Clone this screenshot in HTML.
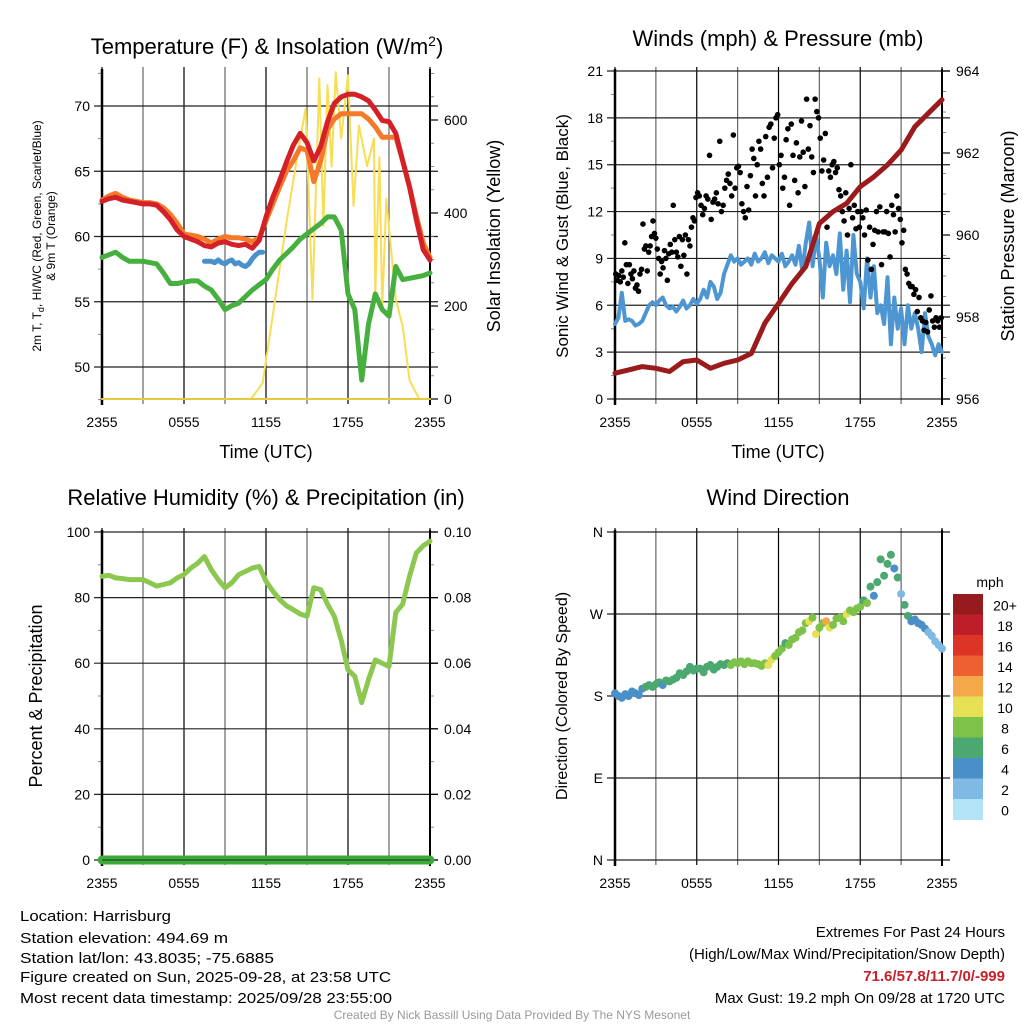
<!DOCTYPE html>
<html><head><meta charset="utf-8"><style>
html,body{margin:0;padding:0;background:#fff;}
svg{display:block;font-family:"Liberation Sans",sans-serif;}
</style></head><body>
<svg id="chart" width="1024" height="1024" viewBox="0 0 1024 1024" xmlns="http://www.w3.org/2000/svg">
<rect width="1024" height="1024" fill="#fff"/>
<g id="g1"></g>
<g id="g2"></g>
<g id="g3"></g>
<g id="g4"></g>

<text x="267" y="54" font-size="22" text-anchor="middle">Temperature (F) &amp; Insolation (W/m<tspan dy="-8" font-size="14">2</tspan><tspan dy="8">)</tspan></text>
<text x="778" y="46" font-size="22" text-anchor="middle">Winds (mph) &amp; Pressure (mb)</text>
<text x="266" y="505" font-size="22" text-anchor="middle">Relative Humidity (%) &amp; Precipitation (in)</text>
<text x="778" y="505" font-size="22" text-anchor="middle">Wind Direction</text>

<text transform="translate(41,236) rotate(-90)" font-size="12" text-anchor="middle">2m T, T<tspan font-size="9" dy="3">d</tspan><tspan dy="-3">, HI/WC (Red, Green, Scarlet/Blue)</tspan></text>
<text transform="translate(55,236) rotate(-90)" font-size="12" text-anchor="middle">&amp; 9m T (Orange)</text>
<text transform="translate(500,236) rotate(-90)" font-size="18" text-anchor="middle">Solar Insolation (Yellow)</text>
<text x="266" y="458" font-size="18" text-anchor="middle">Time (UTC)</text>
<text x="778" y="458" font-size="18" text-anchor="middle">Time (UTC)</text>
<text transform="translate(568,236) rotate(-90)" font-size="17" text-anchor="middle">Sonic Wind &amp; Gust (Blue, Black)</text>
<text transform="translate(1014,236) rotate(-90)" font-size="18" text-anchor="middle">Station Pressure (Maroon)</text>
<text transform="translate(42,696) rotate(-90)" font-size="18" text-anchor="middle">Percent &amp; Precipitation</text>
<text transform="translate(567,696) rotate(-90)" font-size="16" text-anchor="middle">Direction (Colored By Speed)</text>
<text x="990" y="587" font-size="14" text-anchor="middle">mph</text>

<g font-size="15">
<text x="20" y="921" textLength="151" lengthAdjust="spacingAndGlyphs">Location: Harrisburg</text>
<text x="20" y="943" textLength="208" lengthAdjust="spacingAndGlyphs">Station elevation: 494.69 m</text>
<text x="20" y="963" textLength="254" lengthAdjust="spacingAndGlyphs">Station lat/lon: 43.8035; -75.6885</text>
<text x="20" y="982" textLength="371" lengthAdjust="spacingAndGlyphs">Figure created on Sun, 2025-09-28, at 23:58 UTC</text>
<text x="20" y="1003" textLength="372" lengthAdjust="spacingAndGlyphs">Most recent data timestamp: 2025/09/28 23:55:00</text>
</g>
<g font-size="15" text-anchor="end">
<text x="1005" y="937">Extremes For Past 24 Hours</text>
<text x="1005" y="959">(High/Low/Max Wind/Precipitation/Snow Depth)</text>
<text x="1005" y="981" fill="#c8202a" font-weight="bold">71.6/57.8/11.7/0/-999</text>
<text x="1005" y="1003">Max Gust: 19.2 mph On 09/28 at 1720 UTC</text>
</g>
<text x="512" y="1019" font-size="12" fill="#999" text-anchor="middle">Created By Nick Bassill Using Data Provided By The NYS Mesonet</text>
</svg>
<script>
// ---------- data ----------
const timeTicks = ["2355","0555","1155","1755","2355"];
const tempRed = [62.7,62.9,63.0,62.8,62.7,62.6,62.5,62.5,62.4,61.9,61.3,60.5,60.0,59.8,59.6,59.3,59.2,59.5,59.6,59.4,59.3,59.4,59.1,59.7,61.5,63.0,64.3,65.7,67.0,67.9,67.2,65.8,66.9,68.8,70.2,70.7,70.9,70.9,70.7,70.4,69.7,68.9,68.8,67.9,65.8,63.8,61.3,59.0,58.2];
const temp9m = [62.8,63.1,63.3,63.0,62.8,62.7,62.6,62.6,62.5,62.2,61.7,61.0,60.2,60.1,60.0,59.8,59.5,59.8,60.0,59.9,59.9,59.8,59.6,59.9,61.2,62.5,63.8,65.0,65.8,66.8,66.6,64.2,65.8,68.2,69.0,69.4,69.4,69.4,69.4,69.0,68.4,67.6,67.6,67.6,65.8,63.8,61.6,59.5,58.4];
const dewPoint = [58.4,58.6,58.8,58.4,58.1,58.1,58.1,58.0,57.9,57.2,56.4,56.4,56.5,56.6,56.6,56.2,55.9,55.2,54.4,54.7,54.9,55.4,55.9,56.3,56.7,57.5,58.2,58.7,59.2,59.8,60.2,60.6,61.0,61.5,61.5,60.5,55.6,54.4,49.0,53.3,55.6,54.4,53.9,57.7,56.7,56.8,56.9,57.0,57.2];
const windChillStart = 7.5;
const windChill = [58.1,58.1,58.1,58.0,58.2,58.0,57.9,58.1,58.2,57.9,58.0,57.8,57.7,57.9,58.3,58.6,58.8,58.8];
const solarT = [0,10.9,11.75,12.5,13.5,14.5,14.9,15.4,15.9,16.2,16.5,16.8,17.1,17.5,18.0,18.4,18.8,19.4,19.9,20.0,20.3,20.5,20.8,21.2,21.5,22.0,22.5,23.2,24];
const solarV = [0,0,34,180,380,560,624,214,690,372,675,500,703,560,696,415,588,501,560,228,520,192,431,307,214,156,41,0,0];
const rh = [86.5,86.8,86,85.8,85.5,85.5,85.5,84.5,83.5,84,84.5,86,87,89,90.5,92.5,88.5,85.5,83,84.5,87,88,89,89.5,85,82,79.4,77.5,76.3,75,74.3,83,82.4,78,74.3,67,58,56,48,55,61,60,59,75.5,78,86.5,93.6,95.8,97.2];
const pressure = [956.63,956.71,956.79,956.75,956.67,956.91,956.95,956.75,956.87,956.95,957.11,957.85,958.33,958.82,959.23,960.28,960.57,960.77,961.18,961.42,961.71,962.07,962.64,962.97,963.3];
const wind = [4.8,5.2,6.8,5.0,5.1,5.0,4.7,4.8,5.0, 5.5,6.0,6.2,6.0,6.3,6.5,6.0,5.8, 5.9,5.6,5.9,6.3,5.8,6.0,6.4,6.1, 6.4,7.0,6.5,7.5,7.2,6.4,6.8,8.0, 8.6,9.2,8.8,9.0,8.6,8.8,9.0,8.6, 9.3,8.8,9.0,9.4,8.7,9.2,9.0,8.8, 9.3,8.5,8.8,9.2,8.6,9.8,8.2,10.0, 11.3,8.5,10.5,9.0,6.5,10.0,8.5,9.2, 8.0,10.6,7.0,9.5,6.2,10.5,8.0,7.5, 5.8,9.0,6.5,8.5,5.5,6.0,4.8,7.8, 3.5,6.5,4.5,5.8,3.5,6.0,4.5,5.5, 4.5,3.0,5.5,4.0,3.5,2.8,3.5,3.0];
const gustBlocks = [
 [8.0,7.6,7.9,7.5,8.2,7.8,10.0,8.6,7.4,8.6,8.0,7.7,8.2,7.1,7.3,6.9,8.0,8.3],
 [11.2,9.6,9.8,8.2,9.4,9.8,10.4,11.4,10.6,10.3,9.6,9.0,8.0,8.8,8.4,9.5,9.0,7.6,9.3],
 [9.9,9.4,12.4,10.2,9.4,9.1,10.4,8.5,10.2,9.2,10.5,8.0,10.2,9.8,11.0,11.6,11.4,12.9],
 [13.2,13.0,12.4,11.8,12.2,13.0,12.8,15.6,11.5,12.6,12.8,13.2,12.5,16.5,12.0,12.4],
 [13.5,14.0,14.4,13.8,13.0,16.9,13.5,14.8,14.9,14.5,12.5,12.0,11.6,13.6,12.1,14.3],
 [16.0,15.4,13.0,15.0,16.5,16.0,13.8,13.0,16.8,14.2,17.4,17.6,14.8,16.7,18.0,18.2],
 [15.0,15.6,13.5,14.2,16.6,17.3,12.4,17.6,15.6,14.0,16.4,13.2,15.5,17.8,15.8,13.6],
 [19.2,16.0,17.5,15.5,14.5,19.2,18.4,18.0,16.7,14.6,15.3,17.0,11.0,14.6,14.2,15.0],
 [15.2,14.5,14.8,13.4,13.0,12.0,11.4,13.2,10.5,12.2,15.0,11.6,12.4,10.9,12.0,11.0],
 [12.0,11.6,10.5,12.1,8.9,11.0,8.3,9.9,10.8,12.0,10.7,12.3,8.6,10.7,10.7,12.0],
 [10.6,9.1,12.4,11.8,10.7,13.0,12.2,11.5,10.0,10.8,8.3,8.0,7.4,7.2,7.2,6.7],
 [7.0,5.6,6.5,5.2,5.0,4.4,4.9,4.3,5.7,6.6,5.0,4.6,5.2,5.0,4.6,5.2]];
const windDir = [183,180,178,182,180,185,183,181,188, 190,192,190,193,195,192,197,196, 198,200,205,203,207,212,208,210, 210,206,212,214,209,212,215,214, 216,214,217,216,218,215,218,216, 216,215,213,216,214,220,224,228, 232,238,236,242,244,250,252,260, 262,266,248,255,260,262,255,258, 265,266,262,270,274,272,276,278, 285,282,300,290,305,330,312,325, 335,320,310,292,280,268,262,264, 260,258,254,250,246,240,236,232];
const windDirSpeed = [4,4,4,4,5,5,4,4,5, 6,6,6,6,6,5,6,6, 6,6,6,6,6,6,6,6, 6,7,6,7,6,7,6,6, 7,8,8,8,8,8,8,8, 8,8,8,9,10,10,8,8, 8,7,8,8,8,8,9,8, 10,9,10,8,8,12,10,8, 8,9,8,10,9,9,8,9, 7,8,7,5,6,6,6,7, 6,5,6,3,6,6,5,4, 4,4,4,3,3,3,2,3];
const cbLabels = ["20+","18","16","14","12","10","8","6","4","2","0"];
const cbColors = ["#951b1e","#be1e2a","#dc3427","#ee6030","#f5a84a","#e6e055","#7ec24a","#4aa870","#4a8fc8","#7fbae4","#b3e3f7"];

// ---------- helpers ----------
const NS="http://www.w3.org/2000/svg";
function mk(parent,tag,attrs){const e=document.createElementNS(NS,tag);for(const k in attrs)e.setAttribute(k,attrs[k]);parent.appendChild(e);return e;}
function lin(d0,d1,r0,r1){return v=>r0+(v-d0)/(d1-d0)*(r1-r0);}
function frame(g,L,R,T,B,yTicksL,yLabL,yTicksR,yLabR,xs,ys,ysR,minorL,minorR){
  // vertical grid every 3 h
  for(let h=0;h<=24;h+=3){const x=xs(h);
    const ln=mk(g,'line',{x1:x,x2:x,y1:T-4,y2:B+5,stroke:(h%6==0)?'#000':'#666','stroke-width':1.2});
    
    }
  timeTicks.forEach((t,i)=>{const tx=mk(g,'text',{x:xs(i*6),y:B+28,'font-size':14,'text-anchor':'middle'});tx.textContent=t;
    
    });
  yTicksL.forEach((v,i)=>{const y=ys(v);
    const ln=mk(g,'line',{x1:L-8,x2:R+(yTicksR?8:8),y1:y,y2:y,stroke:'#222','stroke-width':1.2});
    
    
    const tx=mk(g,'text',{x:L-12,y:y+5,'font-size':14,'text-anchor':'end'});tx.textContent=yLabL[i];
    
    });
  (minorL||[]).forEach(v=>{const y=ys(v);mk(g,'line',{x1:L-4,x2:L,y1:y,y2:y,stroke:'#888'});});
  if(yTicksR){yTicksR.forEach((v,i)=>{const y=ysR(v);
    mk(g,'line',{x1:R,x2:R+8,y1:y,y2:y,stroke:'#000','stroke-width':1.2});
    const tx=mk(g,'text',{x:R+14,y:y+5,'font-size':14});tx.textContent=yLabR[i];
    
    });
    (minorR||[]).forEach(v=>{const y=ysR(v);mk(g,'line',{x1:R,x2:R+4,y1:y,y2:y,stroke:'#888'});});}
  mk(g,'line',{x1:L,x2:L,y1:T-2,y2:B+6,stroke:'#000','stroke-width':2.5});
  mk(g,'line',{x1:R,x2:R,y1:T-2,y2:B+6,stroke:'#000','stroke-width':2});
}
function path(g,ts,vs,xs,ys,color,w,name){
  let d='';vs.forEach((v,i)=>{d+=(i?'L':'M')+xs(ts[i]).toFixed(1)+','+ys(v).toFixed(1);});
  const p=mk(g,'path',{d:d,fill:'none',stroke:color,'stroke-width':w,'stroke-linejoin':'round','stroke-linecap':'round'});
  
  
  return p;
}
const halfHours = tempRed.map((_,i)=>i*0.5);

// ---------- Panel 1 ----------
(function(){
  const g=document.getElementById('g1');
  const L=102,R=430,T=71,B=399;
  const xs=lin(0,24,L,R), ys=lin(70,50,106,367), ysR=lin(0,600,399,120);
  frame(g,L,R,T,B,[50,55,60,65,70],["50","55","60","65","70"],[0,200,400,600],["0","200","400","600"],xs,ys,ysR,[47.5,52.5,57.5,62.5,67.5,72.5],[50,100,150,250,300,350,450,500,550,650,700]);
  path(g,solarT,solarV,xs,ysR,'#f8dd55',2,'solar-insolation-line');
  path(g,halfHours,dewPoint,xs,ys,'#46b03e',5,'dewpoint-line');
  path(g,windChill.map((_,i)=>windChillStart+i*0.25),windChill,xs,ys,'#4a90cc',5,'wind-chill-line');
  path(g,halfHours,temp9m,xs,ys,'#f47a2a',5,'temperature-9m-line');
  path(g,halfHours,tempRed,xs,ys,'#d42027',5,'temperature-2m-line');
  mk(g,'line',{x1:L,x2:R,y1:B,y2:B,stroke:'#e8c840','stroke-width':2});
})();

// ---------- Panel 2 ----------
(function(){
  const g=document.getElementById('g2');
  const L=615,R=942,T=71,B=399;
  const xs=lin(0,24,L,R), ys=lin(0,21,B,T), ysR=lin(956,964,B,T);
  frame(g,L,R,T,B,[0,3,6,9,12,15,18,21],["0","3","6","9","12","15","18","21"],[956,958,960,962,964],["956","958","960","962","964"],xs,ys,ysR,[1.5,4.5,7.5,10.5,13.5,16.5,19.5],[956.5,957,957.5,958.5,959,959.5,960.5,961,961.5,962.5,963,963.5]);
  path(g,wind.map((_,i)=>i*0.25),wind,xs,ys,'#4d96d2',4,'sonic-wind-line');
  gustBlocks.forEach((blk,b)=>{blk.forEach((v,i)=>{
    const c=mk(g,'circle',{cx:xs(b*2+(i+0.5)*2/blk.length),cy:ys(v),r:2.8,fill:'#000'});
    
    });});
  path(g,pressure.map((_,i)=>i),pressure,xs,ysR,'#9b1a1c',5,'pressure-line');
})();

// ---------- Panel 3 ----------
(function(){
  const g=document.getElementById('g3');
  const L=102,R=430,T=532,B=860;
  const xs=lin(0,24,L,R), ys=lin(0,100,B,T), ysR=lin(0,0.1,B,T);
  frame(g,L,R,T,B,[0,20,40,60,80,100],["0","20","40","60","80","100"],[0,0.02,0.04,0.06,0.08,0.1],["0.00","0.02","0.04","0.06","0.08","0.10"],xs,ys,ysR,[10,30,50,70,90],[0.01,0.03,0.05,0.07,0.09]);
  path(g,halfHours,rh,xs,ys,'#8cc850',5,'relative-humidity-line');
  const p=mk(g,'line',{x1:L,x2:R,y1:ysR(0),y2:ysR(0),stroke:'#3faa3c','stroke-width':9,'stroke-linecap':'round'});
  
  
  mk(g,'line',{x1:L,x2:R,y1:B,y2:B,stroke:'#1f5f1f','stroke-width':1.5});
})();

// ---------- Panel 4 ----------
(function(){
  const g=document.getElementById('g4');
  const L=615,R=942,T=532,B=860;
  const xs=lin(0,24,L,R), ys=lin(0,360,B,T);
  frame(g,L,R,T,B,[0,90,180,270,360],["N","E","S","W","N"],null,null,xs,ys,null,[],null);
  windDir.forEach((d,i)=>{const s=windDirSpeed[i];const bin=Math.min(10,Math.floor(s/2));
    const c=mk(g,'circle',{cx:xs(i*0.25),cy:ys(d),r:4,fill:cbColors[10-bin]});
    
    });
  const top=594,h=20.5;
  cbColors.forEach((col,i)=>{
    const r=mk(g,'rect',{x:953,y:top+i*h,width:30,height:h+0.5,fill:col});
    
    
    const t=mk(g,'text',{x:1005,y:top+i*h+h/2+6,'font-size':14,'text-anchor':'middle'});t.textContent=cbLabels[i];
    
    });
})();
</script>
</body></html>
